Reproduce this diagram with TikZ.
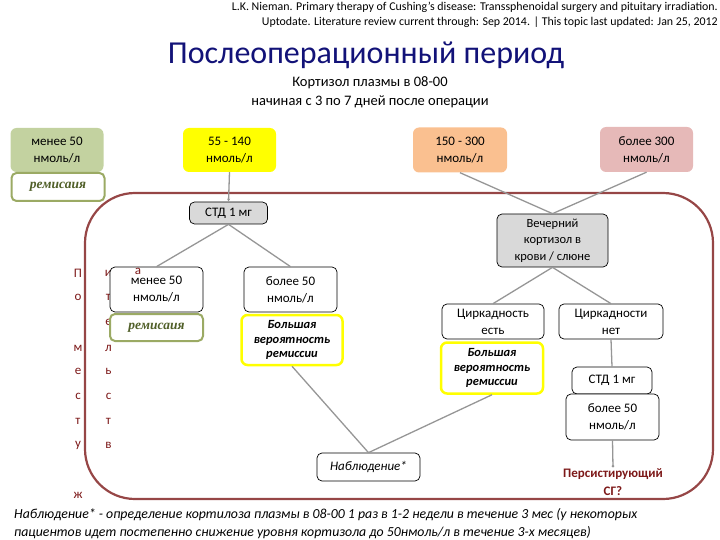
\documentclass[tikz,border=0pt]{standalone}
\usepackage{fontspec}
\setmainfont{Carlito}
\newfontfamily\serifbi{Liberation Serif}
\usetikzlibrary{arrows.meta}
\newcommand\fsz[2]{\fontsize{#1}{#2}\selectfont}
\definecolor{greenfill}{RGB}{195,210,160}
\definecolor{oliveline}{RGB}{155,170,100}
\definecolor{olivetext}{RGB}{80,95,40}
\definecolor{yellowfill}{RGB}{255,255,0}
\definecolor{orangefill}{RGB}{250,192,144}
\definecolor{pinkfill}{RGB}{230,185,184}
\definecolor{grayfill}{RGB}{217,217,217}
\definecolor{framecol}{RGB}{150,70,70}
\definecolor{maroon}{RGB}{125,25,25}
\definecolor{linegray}{RGB}{150,150,150}
\definecolor{titleblue}{RGB}{18,18,120}
\tikzset{
  topbox/.style={rounded corners=6pt, align=center, inner sep=0pt,
    minimum width=93pt, minimum height=44pt, font=\fsz{13}{17}},
  box/.style={draw=black, rounded corners=5pt, fill=white, align=center, inner sep=0pt,
    line width=0.7pt, font=\fsz{13}{17}},
  remisbox/.style={draw=oliveline, line width=2pt, rounded corners=5pt, fill=white,
    inner sep=0pt, text=olivetext, font=\serifbi\bfseries\itshape\fsz{13.5}{16}},
  probbox/.style={draw=yellowfill, line width=2.5pt, rounded corners=6pt, fill=white,
    align=center, inner sep=0pt, font=\bfseries\itshape\fsz{12.5}{14.5}},
  conn/.style={draw=linegray, line width=1.3pt},
  letter/.style={text=maroon, font=\fsz{13}{15}, inner sep=0pt},
  frame/.style={draw=framecol, line width=2.2pt, rounded corners=50pt}
}
\begin{document}
\begin{tikzpicture}[x=1pt,y=-1pt]
\useasboundingbox (0,0) rectangle (720,540);
% header
\node[anchor=east, font=\fsz{11.9}{14}, inner sep=0pt] (h1) at (718,7)
  {L.K. Nieman. Primary therapy of Cushing's disease: Transsphenoidal surgery and pituitary irradiation.};
\node[anchor=east, font=\fsz{11.9}{14}, inner sep=0pt] (h2) at (718,22)
  {Uptodate. Literature review current through: Sep 2014. | This topic last updated: Jan 25, 2012};
\node[font=\fsz{32}{38}, text=titleblue, inner sep=0pt] (title) at (366,55) {Послеоперационный период};
\node[font=\fsz{14.5}{19}, align=center, inner sep=0pt] (sub) at (370,92)
  {Кортизол плазмы в 08-00\\начиная с 3 по 7 дней после операции};
% frame
\draw[frame] (85,193) rectangle (713,499);
% vertical letters
\foreach \ch/\yy [count=\i] in {П/273,о/297,м/348,е/371,с/396,т/421,у/445,ж/495}
  \node[letter] (la\i) at (78,\yy) {\ch};
\foreach \ch/\yy [count=\i] in {и/273,т/297,е/322,л/348,ь/371,с/396,т/421,в/445}
  \node[letter] (lb\i) at (108.5,\yy) {\ch};
% top row
\node[topbox, fill=greenfill] (g50) at (57,150) {менее 50\\нмоль/л};
\node[remisbox, minimum width=93pt, minimum height=28pt] (rem1) at (58,187) {ремисаия};
\node[topbox, fill=yellowfill] (y55) at (229.5,150) {55 - 140\\нмоль/л};
\node[topbox, fill=orangefill, minimum width=94pt, minimum height=45pt] (o150) at (460,150) {150 - 300\\нмоль/л};
\node[topbox, fill=pinkfill, minimum height=45pt] (p300) at (646.5,149.5) {более 300\\нмоль/л};
% left branch
\node[box, fill=grayfill, minimum width=78pt, minimum height=22pt] (std1) at (228.5,213) {СТД 1 мг};
\node[box, minimum width=93pt, minimum height=45pt] (lo50) at (156.5,289.5) {менее 50\\нмоль/л};
\node[remisbox, minimum width=93pt, minimum height=27pt] (rem2) at (156.5,327.5) {ремисаия};
\node[letter] (lc) at (138,271) {а};
\node[box, minimum width=93pt, minimum height=45pt] (hi50) at (290.5,289.5) {более 50\\нмоль/л};
\node[probbox, minimum width=101pt, minimum height=50pt] (prob1) at (292,340) {Большая\\вероятность\\ремиссии};
\node[box, minimum width=103pt, minimum height=28pt, font=\itshape\fsz{13}{16}] (obs) at (368.5,467) {Наблюдение*};
% right branch
\node[box, fill=grayfill, minimum width=111pt, minimum height=53pt, font=\fsz{12.5}{16.5}] (eve) at (552.5,240.5)
  {Вечерний\\кортизол в\\крови / слюне};
\node[box, minimum width=102pt, minimum height=35pt] (cyes) at (493,321.5) {Циркадность\\есть};
\node[probbox, minimum width=102pt, minimum height=51pt] (prob2) at (492,368) {Большая\\вероятность\\ремиссии};
\node[box, minimum width=104pt, minimum height=35pt] (cno) at (611,321.5) {Циркадности\\нет};
\node[box, minimum width=80pt, minimum height=27pt] (std2) at (612,380.5) {СТД 1 мг};
\node[box, minimum width=93pt, minimum height=46pt] (hi50b) at (612.5,417) {более 50\\нмоль/л};
\node[font=\bfseries\fsz{13}{18}, text=maroon, align=center, inner sep=1pt] (pers) at (613,482) {Персистирующий\\СГ?};
% connectors
\draw[conn, -{Stealth[length=3pt,width=3pt]}] (y55.south) -- (std1.north);
\draw[conn] (std1.south) -- (lo50.north);
\draw[conn] (std1.south) -- (hi50.north);
\draw[conn] (prob1.south) -- (obs.north);
\draw[conn] (prob2.south) -- (obs.north);
\draw[conn] (o150.south) -- (eve.north);
\draw[conn] (p300.south) -- (eve.north);
\draw[conn] (eve.south) -- (cyes.north);
\draw[conn] (eve.south) -- (cno.north);
\draw[conn] (cno.south) -- (std2.north);
\draw[conn, -{Circle[length=2.5pt]}] (hi50b.south) -- (pers.north);
% footer
\node[anchor=west, font=\itshape\fsz{13.8}{16}, inner sep=0pt] (f1) at (14,515)
  {Наблюдение* - определение кортилоза плазмы в 08-00 1 раз в 1-2 недели в течение 3 мес (у некоторых};
\node[anchor=west, font=\itshape\fsz{13.8}{16}, inner sep=0pt] (f2) at (14,533)
  {пациентов идет постепенно снижение уровня кортизола до 50нмоль/л в течение 3-х месяцев)};
\end{tikzpicture}
\end{document}
